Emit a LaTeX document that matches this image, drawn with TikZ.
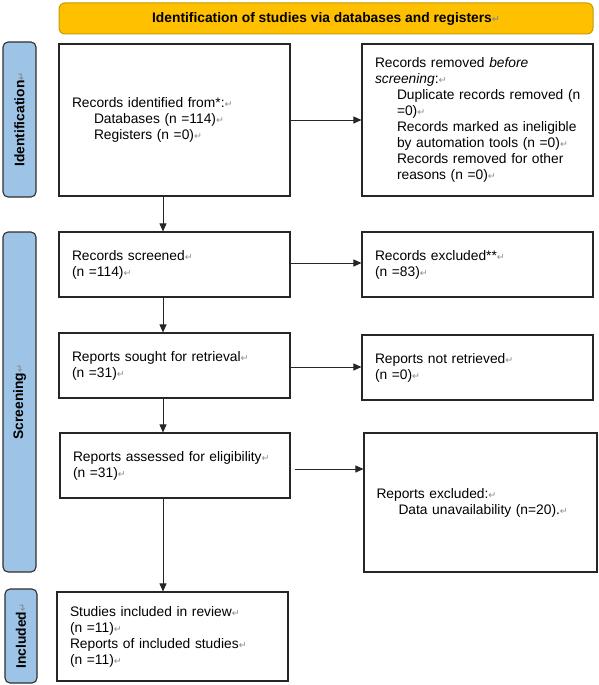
\documentclass[tikz,border=0pt]{standalone}
\usepackage{fontspec}
\setmainfont{Liberation Sans}
\newfontfamily\dvfont{DejaVu Sans}
\usetikzlibrary{arrows.meta,calc}
\definecolor{banner}{HTML}{FFC000}
\definecolor{bannerline}{HTML}{C59A00}
\definecolor{sidefill}{HTML}{9DC3E6}
\definecolor{sideline}{HTML}{2F2F2F}
\newcommand\pmk{{\dvfont\fontsize{9.5}{9.5}\selectfont\color{black!45}↵}}
\newcommand\ind{\hspace*{22pt}}
\tikzset{
  boxfont/.style={font=\fontsize{13.8}{16}\selectfont},
  box/.style={draw=black!85, line width=1.1pt, rectangle, inner xsep=13pt, inner ysep=0pt,
    align=left, boxfont},
  side/.style={draw=sideline, fill=sidefill, line width=1.1pt, rounded corners=5pt, rotate=90,
    inner sep=0pt, font=\fontsize{13.8}{16}\selectfont\bfseries},
  arr/.style={draw=black!85, line width=0.8pt, -{Triangle[length=8pt,width=7pt]}}
}
\begin{document}
\begin{tikzpicture}[x=1pt,y=-1pt]
\useasboundingbox (0,0) rectangle (599,685);
% banner
\node[draw=bannerline, fill=banner, line width=1pt, rounded corners=6pt, minimum width=534pt,
  minimum height=31pt, inner sep=0pt, font=\fontsize{13.8}{16}\selectfont\bfseries]
  (banner) at (326,18.5) {Identification of studies via databases and registers\pmk};
% side labels
\node[side, minimum width=155pt, minimum height=33pt] (lid) at (19.5,119.5) {Identification\pmk};
\node[side, minimum width=340pt, minimum height=33pt] (lsc) at (19.5,402) {Screening\pmk};
\node[side, minimum width=94pt, minimum height=32pt] (lin) at (21,636) {Included\pmk};
% boxes
\node[box, minimum width=231pt, minimum height=152pt, text width=205pt] (b1) at (174.5,120)
  {Records identified from*:\pmk\\ \ind Databases (n =114)\pmk\\ \ind Registers (n =0)\pmk};
\node[box, minimum width=231pt, minimum height=152pt, text width=205pt] (b2) at (477.5,120)
  {\mbox{Records removed \textit{before}}\\ \textit{screening}:\pmk\\ \ind\mbox{Duplicate records removed (n}\\ \ind =0)\pmk\\
   \ind\mbox{Records marked as ineligible}\\ \ind\mbox{by automation tools (n =0)\pmk}\\ \ind\mbox{Records removed for other}\\ \ind\mbox{reasons (n =0)\pmk}};
\node[box, minimum width=231pt, minimum height=65pt, text width=205pt] (sc) at (174.5,264.5)
  {Records screened\pmk\\ (n =114)\pmk};
\node[box, minimum width=231pt, minimum height=65pt, text width=205pt] (ex) at (477.5,264.5)
  {Records excluded**\pmk\\ (n =83)\pmk};
\node[box, minimum width=231pt, minimum height=65pt, text width=205pt] (so) at (174.5,365.5)
  {Reports sought for retrieval\pmk\\ (n =31)\pmk};
\node[box, minimum width=231pt, minimum height=65pt, text width=205pt] (nr) at (477.5,367.5)
  {Reports not retrieved\pmk\\ (n =0)\pmk};
\node[box, minimum width=230pt, minimum height=65pt, text width=204pt] (as) at (175,465.5)
  {Reports assessed for eligibility\pmk\\ (n =31)\pmk};
\node[box, minimum width=233pt, minimum height=139pt, text width=208pt, inner xsep=12.5pt] (re) at (480.5,502.5)
  {Reports excluded:\pmk\\ \ind\mbox{Data unavailability (n=20).\pmk}};
\node[box, minimum width=231pt, minimum height=89pt, text width=205pt] (inc) at (172.5,636.5)
  {Studies included in review\pmk\\ (n =11)\pmk\\ Reports of included studies\pmk\\ (n =11)\pmk};
% connectors
\coordinate (cx) at (163,0);
\draw[arr] (b1.east) -- (b2.west);
\draw[arr] (b1.south -| cx) -- (sc.north -| cx);
\draw[arr] ($(sc.east)+(0,-1.5)$) coordinate (s1) -- (s1 -| ex.west);
\draw[arr] (sc.south -| cx) -- (so.north -| cx);
\draw[arr] ($(so.east)+(0,1.5)$) coordinate (s2) -- (s2 -| nr.west);
\draw[arr] (so.south -| cx) -- (as.north -| cx);
\draw[arr] ($(as.east)+(4,3.5)$) coordinate (s3) -- (s3 -| re.west);
\draw[arr] (as.south -| cx) -- (inc.north -| cx);
\end{tikzpicture}
\end{document}
